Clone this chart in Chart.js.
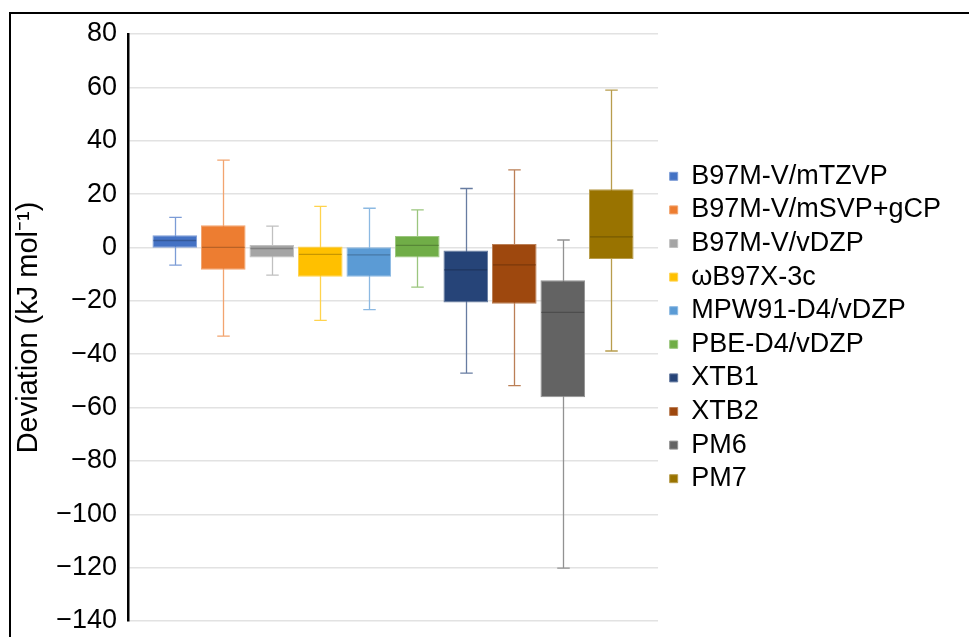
<!DOCTYPE html>
<html>
<head>
<meta charset="utf-8">
<script src="https://cdn.jsdelivr.net/npm/chart.js@4/dist/chart.umd.min.js"></script>
<style>
  html, body { margin: 0; padding: 0; background: #fff; }
  #wrap { position: relative; width: 969px; height: 637px; overflow: hidden; }
  #frame { position: absolute; left: 9px; top: 12px; right: -10px; bottom: -10px;
           border-top: 2px solid #000; border-left: 2px solid #000; pointer-events: none; }
  canvas { position: absolute; left: 0; top: 0; }
</style>
</head>
<body>
<div id="wrap">
  <canvas id="c" width="969" height="637"></canvas>
  <div id="frame"></div>
</div>
<script>
// ---- data ----
const methods = ['B97M-V/mTZVP', 'B97M-V/mSVP+gCP', 'B97M-V/vDZP', 'ωB97X-3c', 'MPW91-D4/vDZP',
                 'PBE-D4/vDZP', 'XTB1', 'XTB2', 'PM6', 'PM7'];
const whiskerLow  = [-6.6, -33.2, -10.4, -27.3, -23.3, -14.9, -47.1, -51.8, -120.2, -38.8];
const quartile1   = [-0.1,  -8.4,  -3.8, -11.0, -11.0,  -3.8, -20.6, -21.1,  -56.1,  -4.3];
const median      = [ 2.6,   0.0,  -0.4,  -2.6,  -2.8,   0.8,  -8.4,  -6.5,  -24.3,   4.0];
const quartile3   = [ 4.6,   8.3,   0.9,   0.4,   0.1,   4.3,  -1.1,   1.3,  -12.3,  21.8];
const whiskerHigh = [11.3,  32.7,   8.0,  15.4,  14.7,  14.1,  22.1,  29.1,    2.8,  59.0];
const yTicks = { min: -140, max: 80, step: 20 };

// ---- styles ----
const colors = ['#4472C4', '#ED7D31', '#A5A5A5', '#FFC000', '#5B9BD5',
                '#70AD47', '#264478', '#9E480E', '#636363', '#997300'];

function mix(hex, other, t) {
  const a = parseInt(hex.slice(1), 16), b = parseInt(other.slice(1), 16);
  const r = Math.round(((a >> 16) & 255) * (1 - t) + ((b >> 16) & 255) * t);
  const g = Math.round(((a >> 8) & 255) * (1 - t) + ((b >> 8) & 255) * t);
  const bl = Math.round((a & 255) * (1 - t) + (b & 255) * t);
  return 'rgb(' + r + ',' + g + ',' + bl + ')';
}

const datasets = methods.map((m, i) => ({
  label: m,
  data: [[quartile1[i], quartile3[i]]],
  backgroundColor: colors[i],
  borderColor: mix(colors[i], '#ffffff', 0.3),
  borderWidth: 1,
  borderSkipped: false,
  categoryPercentage: 0.915,
  barPercentage: 0.92
}));

const boxPlotPlugin = {
  id: 'boxWhiskers',
  beforeDatasetsDraw(chart) {
    const ctx = chart.ctx, y = chart.scales.y;
    methods.forEach((m, i) => {
      const el = chart.getDatasetMeta(i).data[0];
      if (!el) return;
      const x = Math.round(el.x) + 0.5;
      const cap = el.width * 0.28;
      const yl = y.getPixelForValue(whiskerLow[i]);
      const yh = y.getPixelForValue(whiskerHigh[i]);
      ctx.save();
      ctx.strokeStyle = mix(colors[i], '#ffffff', 0.3);
      ctx.lineWidth = 1.3;
      ctx.beginPath();
      ctx.moveTo(x, yl); ctx.lineTo(x, yh);
      ctx.moveTo(x - cap / 2, yl); ctx.lineTo(x + cap / 2, yl);
      ctx.moveTo(x - cap / 2, yh); ctx.lineTo(x + cap / 2, yh);
      ctx.stroke();
      ctx.restore();
    });
  },
  afterDatasetsDraw(chart) {
    const ctx = chart.ctx, y = chart.scales.y;
    methods.forEach((m, i) => {
      const el = chart.getDatasetMeta(i).data[0];
      if (!el) return;
      const ym = y.getPixelForValue(median[i]);
      ctx.save();
      ctx.strokeStyle = mix(colors[i], '#000000', 0.22);
      ctx.lineWidth = 1.3;
      ctx.beginPath();
      ctx.moveTo(el.x - el.width / 2 + 1, ym);
      ctx.lineTo(el.x + el.width / 2 - 1, ym);
      ctx.stroke();
      ctx.restore();
    });
  }
};

new Chart(document.getElementById('c'), {
  type: 'bar',
  data: { labels: ['Deviation'], datasets },
  plugins: [boxPlotPlugin],
  options: {
    responsive: false,
    animation: false,
    devicePixelRatio: 1,
    layout: { padding: { left: 12, top: 34, bottom: 16, right: 18 } },
    plugins: {
      tooltip: { enabled: false },
      legend: {
        position: 'right',
        align: 'center',
        maxWidth: 400,
        labels: {
          boxWidth: 8,
          boxHeight: 8,
          padding: 6.6,
          color: '#000',
          font: { family: '"Liberation Sans", Arial, sans-serif', size: 27 }
        }
      }
    },
    scales: {
      x: { display: false, stacked: false },
      y: {
        min: yTicks.min, max: yTicks.max,
        afterFit(s) { s.width = 116; s.paddingTop = 0; s.paddingBottom = 0; },
        ticks: {
          stepSize: yTicks.step,
          padding: 11,
          color: '#000',
          font: { family: '"Liberation Sans", Arial, sans-serif', size: 27 },
          callback: v => String(v).replace('-', '\u2212')
        },
        grid: { color: '#e2e2e2', lineWidth: 1.5, drawTicks: false },
        border: { display: true, color: '#000', width: 2.5 },
        title: {
          display: true,
          text: 'Deviation (kJ mol\u207B\u00B9)',
          color: '#000',
          padding: { top: 0, bottom: 0 },
          font: { family: '"Liberation Sans", Arial, sans-serif', size: 29 }
        }
      },
      yR: {
        type: 'linear',
        position: 'right',
        display: true,
        afterFit(s) { s.width = 5; s.paddingTop = 0; s.paddingBottom = 0; },
        ticks: { display: false },
        grid: { display: false, drawTicks: false },
        border: { display: false }
      }
    }
  }
});
</script>
</body>
</html>
